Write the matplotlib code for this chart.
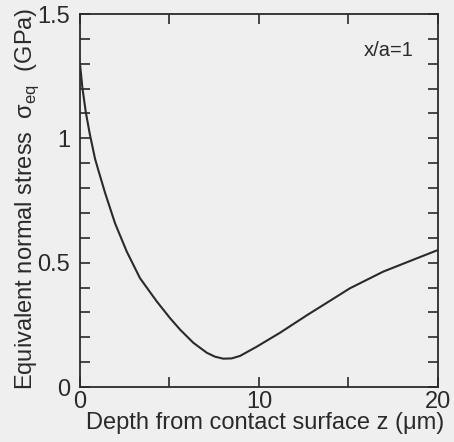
import matplotlib
matplotlib.use("Agg")
import matplotlib.pyplot as plt
from matplotlib.ticker import MultipleLocator, FixedLocator

plt.rcParams["font.family"] = ["Liberation Sans", "DejaVu Sans"]
plt.rcParams["mathtext.fontset"] = "custom"
plt.rcParams["mathtext.rm"] = "Liberation Sans"

# depth z (um) and equivalent normal stress (GPa)
depth = [0.0, 0.13, 0.32, 0.54, 0.84, 1.0, 1.4, 1.96, 2.61, 3.35, 4.28,
         5.03, 5.59, 6.33, 7.08, 7.54, 8.0, 8.47, 8.94, 9.87, 11.17, 12.75,
         13.22, 15.08, 16.94, 18.8, 20.0]
stress = [1.30, 1.206, 1.107, 1.02, 0.918, 0.878, 0.781, 0.658, 0.545,
          0.438, 0.345, 0.277, 0.231, 0.178, 0.138, 0.122, 0.114, 0.115,
          0.125, 0.162, 0.218, 0.292, 0.313, 0.397, 0.464, 0.517, 0.551]

x_labels = [0, 10, 20]
y_labels = [0, 0.5, 1, 1.5]

ink = "#2a2a2a"
paper = "#efefef"

fig = plt.figure(figsize=(4.54, 4.42), dpi=100, facecolor=paper)
ax = fig.add_axes([0.1762, 0.1244, 0.7885, 0.8439], facecolor=paper)

ax.plot(depth, stress, color=ink, lw=1.5, solid_joinstyle="round")

ax.set_xlim(0, 20)
ax.set_ylim(0, 1.5)

ax.xaxis.set_major_locator(FixedLocator(x_labels))
ax.xaxis.set_minor_locator(MultipleLocator(5))
ax.yaxis.set_major_locator(FixedLocator(y_labels))
ax.yaxis.set_minor_locator(MultipleLocator(0.1))
ax.set_xticklabels(["0", "10", "20"])
ax.set_yticklabels(["0", "0.5", "1", "1.5"])

ax.tick_params(which="both", direction="in", top=True, right=True,
               length=7, width=1.2, color=ink, labelcolor=ink, labelsize=17)
ax.tick_params(axis="x", which="major", pad=3)
ax.tick_params(axis="y", which="major", pad=7)

for s in ax.spines.values():
    s.set_color(ink)
    s.set_linewidth(1.3)

ax.set_xlabel("Depth from contact surface z (\u03bcm)", fontsize=17, color=ink)
ax.xaxis.set_label_coords(0.517, -0.067)
ax.set_ylabel("Equivalent normal stress  \u03c3$_{\\mathrm{eq}}$  (GPa)",
              fontsize=17, color=ink)
ax.yaxis.set_label_coords(-0.11, 0.504)

ax.text(0.933, 0.902, "x/a=1", transform=ax.transAxes, ha="right",
        va="center", fontsize=14.5, color=ink)

fig.savefig("out.png", dpi=100, facecolor=paper)
